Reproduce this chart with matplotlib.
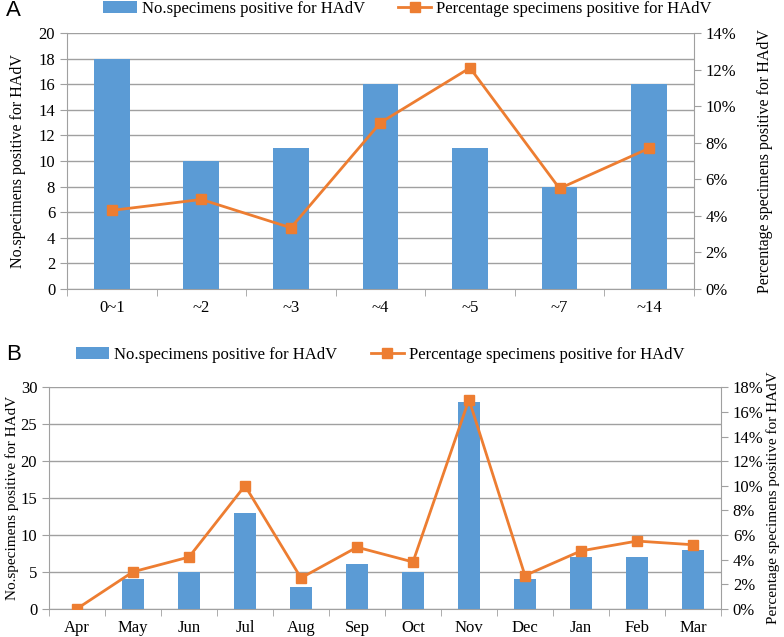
import matplotlib
matplotlib.use("Agg")
import matplotlib.pyplot as plt
import numpy as np
from matplotlib.ticker import FuncFormatter

# Panel A data
age_groups = ["0~1", "~2", "~3", "~4", "~5", "~7", "~14"]
age_counts = [18, 10, 11, 16, 11, 8, 16]
age_pct = [4.3, 4.9, 3.35, 9.1, 12.1, 5.5, 7.7]

# Panel B data
months = ["Apr", "May", "Jun", "Jul", "Aug", "Sep", "Oct", "Nov", "Dec", "Jan", "Feb", "Mar"]
month_counts = [0, 4, 5, 13, 3, 6, 5, 28, 4, 7, 7, 8]
month_pct = [0.0, 3.0, 4.2, 10.0, 2.5, 5.0, 3.8, 17.0, 2.7, 4.7, 5.5, 5.2]

BAR = "#5B9BD5"
LINE = "#ED7D31"
GRID = "#A0A0A0"
SERIF = "Liberation Serif"

plt.rcParams["font.family"] = SERIF

fig = plt.figure(figsize=(7.84, 6.37), dpi=100)


def panel(rect, cats, counts, pct, ymax, ystep, pmax, pstep, width, letter, letter_xy, leg_xy,
          ylab_left_x, ylab_right_x, ylab_size):
    ax = fig.add_axes(rect)
    x = np.arange(len(cats))
    bars = ax.bar(x, counts, width=width, color=BAR, zorder=3, label="No.specimens positive for HAdV")
    ax.set_xlim(-0.5, len(cats) - 0.5)
    ax.set_ylim(0, ymax)
    ax.set_yticks(np.arange(0, ymax + 0.1, ystep))
    ax.yaxis.grid(True, color=GRID, linewidth=1.0, zorder=0)
    ax.set_axisbelow(True)
    ax.set_xticks(x)
    ax.set_xticklabels(cats, fontsize=12)
    ax.set_xticks(np.arange(-0.5, len(cats)), minor=True)
    ax.tick_params(axis="x", which="major", length=0, pad=8)
    ax.tick_params(axis="x", which="minor", length=5, color=GRID, direction="out")
    ax.tick_params(axis="y", length=5, color=GRID, labelsize=12)
    for s in ["top", "right"]:
        ax.spines[s].set_visible(False)
    for s in ["left", "bottom"]:
        ax.spines[s].set_color(GRID)
    ax.set_ylabel("No.specimens positive for HAdV", fontsize=ylab_size)
    ax.yaxis.set_label_coords(ylab_left_x, 0.5)

    ax2 = ax.twinx()
    line, = ax2.plot(x, pct, color=LINE, marker="s", markersize=7, linewidth=2, zorder=4,
                     label="Percentage specimens positive for HAdV")
    ax2.set_ylim(0, pmax)
    ax2.set_yticks(np.arange(0, pmax + 0.1, pstep))
    ax2.yaxis.set_major_formatter(FuncFormatter(lambda v, p: f"{int(round(v))}%"))
    ax2.tick_params(axis="y", length=5, color=GRID, labelsize=12)
    for s in ["top", "left", "bottom"]:
        ax2.spines[s].set_visible(False)
    ax2.spines["right"].set_color(GRID)
    ax2.set_ylabel("Percentage specimens positive for HAdV", fontsize=ylab_size)
    ax2.yaxis.set_label_coords(ylab_right_x, 0.5)

    fig.legend([bars, line], [bars.get_label(), line.get_label()], loc="center",
               bbox_to_anchor=leg_xy, ncol=2, frameon=False, fontsize=12,
               handlelength=2.0, columnspacing=2.0, handletextpad=0.3)
    fig.text(letter_xy[0], letter_xy[1], letter, fontsize=16, family="Liberation Sans",
             ha="left", va="center")
    return ax, ax2


panel([0.0855, 0.5463, 0.7995, 0.4017], age_groups, age_counts, age_pct,
      20, 2, 14, 2, 0.4, "A", (0.008, 0.983), (0.52, 0.986), -0.065, 1.10, 11.5)

panel([0.0625, 0.0444, 0.8571, 0.3476], months, month_counts, month_pct,
      30, 5, 18, 2, 0.39, "B", (0.008, 0.443), (0.485, 0.443), -0.045, 1.068, 11)

fig.savefig("out.png", dpi=100)
